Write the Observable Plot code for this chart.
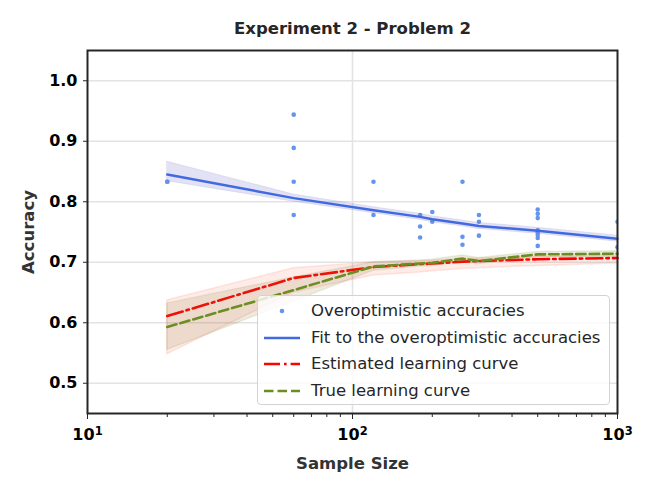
<!DOCTYPE html>
<html><head><meta charset="utf-8">
<script src="https://cdn.jsdelivr.net/npm/d3@7"></script>
<script src="https://cdn.jsdelivr.net/npm/@observablehq/plot@0.6"></script>
<style>
body{margin:0;background:#fff;}
#wrap{position:relative;width:653px;height:494px;}
.legend{position:absolute;left:257px;top:295px;width:353px;height:110px;box-sizing:border-box;border:1.5px solid #d3d3d3;border-radius:4px;background:rgba(255,255,255,0.8);font-family:"DejaVu Sans";font-size:16.5px;color:#262626;}
.legend .row{position:absolute;left:0;height:26px;width:100%;}
.legend .row svg{position:absolute;left:4px;top:0;}
.legend .row span{position:absolute;left:53px;top:2px;line-height:22px;white-space:nowrap;}
</style></head>
<body><div id="wrap"></div>
<script>
// ---- data ----
const sampleSizes = [20, 60, 120, 180, 200, 260, 300, 500, 1000];
const fitAcc  = [0.845, 0.806, 0.786, 0.775, 0.771, 0.764, 0.760, 0.752, 0.739];
const fitLow  = [0.834, 0.800, 0.781, 0.770, 0.766, 0.759, 0.755, 0.747, 0.734];
const fitHigh = [0.866, 0.812, 0.791, 0.780, 0.776, 0.769, 0.765, 0.757, 0.744];
const estAcc  = [0.611, 0.674, 0.692, 0.697, 0.698, 0.701, 0.702, 0.705, 0.707];
const estLow  = [0.548, 0.650, 0.678, 0.683, 0.685, 0.689, 0.690, 0.694, 0.698];
const estHigh = [0.637, 0.690, 0.700, 0.702, 0.703, 0.705, 0.706, 0.709, 0.710];
const trueAcc  = [0.593, 0.654, 0.693, 0.698, 0.699, 0.706, 0.702, 0.713, 0.714];
const trueLow  = [0.555, 0.635, 0.686, 0.693, 0.694, 0.700, 0.697, 0.708, 0.709];
const trueHigh = [0.632, 0.675, 0.700, 0.703, 0.704, 0.711, 0.707, 0.717, 0.718];
const pointSizes = [20, 20, 60, 60, 60, 60, 120, 120, 180, 180, 180, 200, 200, 260, 260, 260, 300, 300, 300,
  500, 500, 500, 500, 500, 500, 500, 500, 1000, 1000];
const pointAcc = [0.833, 0.833, 0.944, 0.889, 0.833, 0.778, 0.833, 0.778, 0.778, 0.759, 0.741, 0.783, 0.767,
  0.833, 0.742, 0.729, 0.778, 0.767, 0.744, 0.787, 0.780, 0.773, 0.753, 0.749, 0.745, 0.740, 0.727, 0.767, 0.725];
const xTicks = [10, 100, 1000];
const xTickBase = "10";
const xTickExponents = ["1", "2", "3"];
const xMinorTicks = [20, 30, 40, 50, 60, 70, 80, 90, 200, 300, 400, 500, 600, 700, 800, 900];
const yTicks = [0.5, 0.6, 0.7, 0.8, 0.9, 1.0];
const titleText = "Experiment 2 - Problem 2";
const xLabel = "Sample Size";
const yLabel = "Accuracy";
const legendLabels = ["Overoptimistic accuracies", "Fit to the overoptimistic accuracies", "Estimated learning curve", "True learning curve"];

// ---- tables ----
const curve = sampleSizes.map((n, i) => ({n, fit: fitAcc[i], fitLow: fitLow[i], fitHigh: fitHigh[i],
  est: estAcc[i], estLow: estLow[i], estHigh: estHigh[i], tru: trueAcc[i], truLow: trueLow[i], truHigh: trueHigh[i]}));
const points = pointSizes.map((n, i) => ({n, acc: pointAcc[i]}));

const chart = Plot.plot({
  width: 653, height: 494,
  marginLeft: 87, marginRight: 36, marginTop: 50, marginBottom: 81,
  style: {fontFamily: "DejaVu Sans", fontSize: "16px", color: "#000", background: "#fff"},
  x: {type: "log", domain: [10, 1000]},
  y: {domain: [0.45, 1.05]},
  marks: [
    Plot.gridY(yTicks, {stroke: "#e3e3e3", strokeOpacity: 1, strokeWidth: 1.6}),
    Plot.gridX([100], {stroke: "#e3e3e3", strokeOpacity: 1, strokeWidth: 1.6}),
    Plot.dot(points, {x: "n", y: "acc", r: 2.3, fill: "#6495ed", stroke: "none", clip: true}),
    Plot.areaY(curve, {x: "n", y1: "fitLow", y2: "fitHigh", fill: "#7070c8", fillOpacity: 0.2, stroke: "#7070c8", strokeOpacity: 0.15}),
    Plot.line(curve, {x: "n", y: "fit", stroke: "#4169e1", strokeWidth: 2.5}),
    Plot.areaY(curve, {x: "n", y1: "estLow", y2: "estHigh", fill: "#ff6347", fillOpacity: 0.12, stroke: "#ff6347", strokeOpacity: 0.15, strokeWidth: 1.5}),
    Plot.line(curve, {x: "n", y: "est", stroke: "#ff0000", strokeWidth: 2.6, strokeDasharray: "16,4,2.6,4"}),
    Plot.areaY(curve, {x: "n", y1: "truLow", y2: "truHigh", fill: "#8b7432", fillOpacity: 0.15, stroke: "#6b8e23", strokeOpacity: 0.12, strokeWidth: 1.5}),
    Plot.line(curve, {x: "n", y: "tru", stroke: "#6b8e23", strokeWidth: 2.6, strokeDasharray: "9.5,4"}),
    Plot.frame({stroke: "#262626", strokeWidth: 2}),
    Plot.axisX(xMinorTicks, {tickSize: 4, tickFormat: () => "", label: null, stroke: "#262626"}),
    Plot.axisX(xTicks, {tickSize: 6, tickPadding: 9, tickFormat: (d) => "§" + xTickExponents[xTicks.indexOf(d)], label: null,
      stroke: "#262626", fontWeight: "bold", fontSize: 16}),
    Plot.axisY(yTicks, {tickSize: 4, tickPadding: 6, tickFormat: d3.format(".1f"), label: null,
      stroke: "#262626", fontWeight: "bold", fontSize: 16}),
    Plot.text([titleText], {frameAnchor: "top", dy: -17, fontWeight: "bold", fontSize: 16.5, fill: "#262626", lineAnchor: "bottom"}),
    Plot.text([xLabel], {frameAnchor: "bottom", dy: 55, fontWeight: "bold", fontSize: 16.5, fill: "#333333", lineAnchor: "bottom"}),
    Plot.text([yLabel], {frameAnchor: "left", dx: -59, rotate: -90, textAnchor: "middle", fontWeight: "bold", fontSize: 16.5, fill: "#333333"})
  ]
});
// render "10" with a raised exponent
chart.querySelectorAll("text").forEach(t => {
  const s = t.textContent;
  if (s.startsWith("§")) {
    const exp = s.slice(1);
    t.textContent = "";
    const ns = "http://www.w3.org/2000/svg";
    const base = document.createElementNS(ns, "tspan");
    base.textContent = xTickBase;
    const sup = document.createElementNS(ns, "tspan");
    sup.textContent = exp;
    sup.setAttribute("dy", "-0.42em");
    sup.setAttribute("font-size", "11.5");
    t.appendChild(base); t.appendChild(sup);
  }
});
const wrap = document.getElementById("wrap");
wrap.appendChild(chart);

// ---- legend ----
const legend = document.createElement("div");
legend.className = "legend";
const handles = [
  `<circle cx="20" cy="13" r="2.3" fill="#6495ed"/>`,
  `<line x1="2" x2="38" y1="13" y2="13" stroke="#4169e1" stroke-width="2.5"/>`,
  `<line x1="2" x2="38" y1="13" y2="13" stroke="#ff0000" stroke-width="2.6" stroke-dasharray="16,4,2.6,4"/>`,
  `<line x1="2" x2="38" y1="13" y2="13" stroke="#6b8e23" stroke-width="2.6" stroke-dasharray="9.5,4"/>`
];
legendLabels.forEach((lab, i) => {
  const row = document.createElement("div");
  row.className = "row";
  row.style.top = (2 + i * 26.5) + "px";
  row.innerHTML = `<svg width="42" height="26">${handles[i]}</svg><span>${lab}</span>`;
  legend.appendChild(row);
});
wrap.appendChild(legend);
</script>
</body></html>
